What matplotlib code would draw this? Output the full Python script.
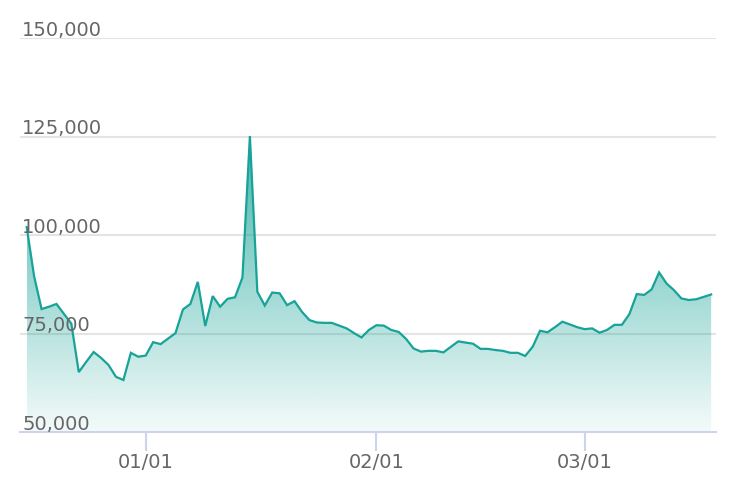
import datetime as dt
import numpy as np
import matplotlib
matplotlib.use("Agg")
import matplotlib.pyplot as plt
import matplotlib.dates as mdates
from matplotlib.patches import Polygon
from matplotlib.transforms import blended_transform_factory

# 일별 값 (2020-12-16 ~ 2021-03-18)
start_date = dt.date(2020, 12, 16)
values = [
    102000, 89500, 81200, 81800, 82500, 80000, 77500, 65200, 67800, 70300,
    68800, 67000, 64000, 63200, 70100, 69100, 69400, 72800, 72300, 73700,
    75100, 81100, 82500, 88100, 76900, 84500, 81800, 83800, 84200, 89200,
    125100, 85600, 82100, 85400, 85200, 82200, 83200, 80500, 78400, 77800,
    77700, 77700, 77000, 76300, 75100, 74000, 75900, 77100, 77000, 75900,
    75400, 73600, 71200, 70400, 70600, 70600, 70200, 71600, 73000, 72700,
    72400, 71100, 71100, 70800, 70600, 70100, 70100, 69300, 71600, 75700,
    75300, 76600, 78000, 77300, 76600, 76100, 76300, 75200, 75900, 77200,
    77200, 79900, 85000, 84800, 86200, 90500, 87700, 86000, 83900, 83500,
    83700, 84300, 84900,
]
dates = [start_date + dt.timedelta(days=i) for i in range(len(values))]
y_ticks = [50000, 75000, 100000, 125000, 150000]
x_ticks = [dt.date(2021, 1, 1), dt.date(2021, 2, 1), dt.date(2021, 3, 1)]

LINE = "#17a398"
GRID = "#e4e4e4"
AXIS = "#cdd3ea"
TEXT = "#666666"

fig = plt.figure(figsize=(7.32, 4.94), dpi=100)
ax = fig.add_axes([20 / 732, 62 / 494, 696 / 732, 394 / 494])

x = mdates.date2num(dates)
y = np.array(values)
ax.set_xlim(x[0] - 0.9, x[-1] + 0.65)
ax.set_ylim(50000, 150000)

# 그라데이션 채우기
ymax = y.max()
grad = np.linspace(0.05, 0.8, 256).reshape(-1, 1)
rgba = np.zeros((256, 1, 4))
rgba[..., :3] = matplotlib.colors.to_rgb(LINE)
rgba[..., 3] = grad
img = ax.imshow(rgba, extent=[x[0], x[-1], 50000, ymax], origin="lower",
                aspect="auto", zorder=1)
poly = Polygon(np.column_stack([np.r_[x[0], x, x[-1]], np.r_[50000, y, 50000]]),
               closed=True, facecolor="none", edgecolor="none")
ax.add_patch(poly)
img.set_clip_path(poly)

ax.plot(x, y, color=LINE, lw=1.6, zorder=3, solid_joinstyle="miter")

# 가로 격자선
for v in y_ticks[1:]:
    ax.axhline(v, color=GRID, lw=1.5, zorder=0.5)
ax.axhline(50000, color=AXIS, lw=1.5, zorder=4, clip_on=False)

# y 라벨 (그래프 안쪽, 격자선 위)
tr = blended_transform_factory(ax.transAxes, ax.transData)
for v in y_ticks:
    ax.text(0.003, v + 550, f"{v:,}", transform=tr, ha="left", va="baseline",
            fontsize=14, color=TEXT, zorder=5)

for s in ax.spines.values():
    s.set_visible(False)
ax.set_yticks([])
ax.set_xticks(mdates.date2num(x_ticks))
ax.set_xticklabels([d.strftime("%m/%d") for d in x_ticks], fontsize=14, color=TEXT)
ax.tick_params(axis="x", length=14, width=1.5, color=AXIS, pad=1)

fig.savefig("out.png", dpi=100)
